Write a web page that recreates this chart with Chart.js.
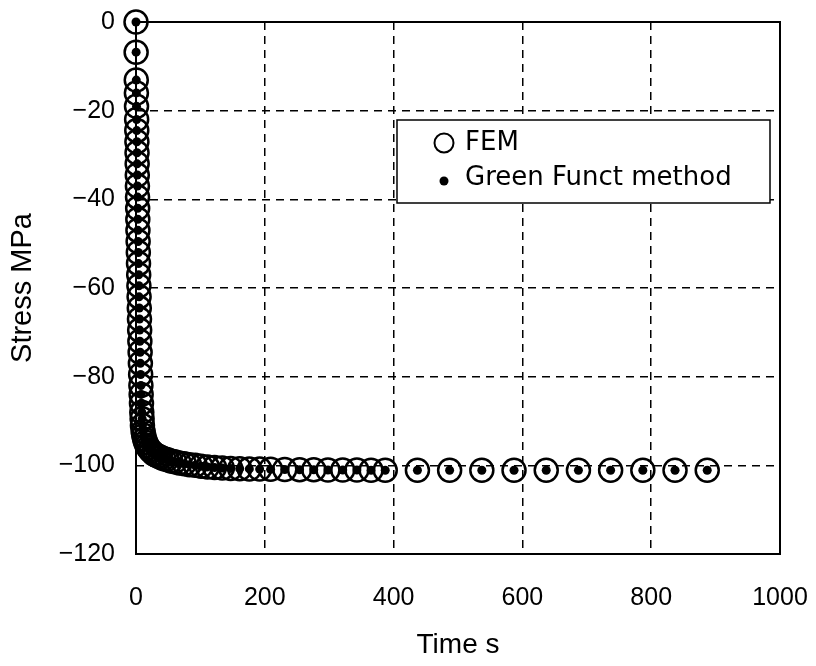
<!DOCTYPE html>
<html>
<head>
<meta charset="utf-8">
<script src="https://cdn.jsdelivr.net/npm/chart.js@4.4.0/dist/chart.umd.min.js"></script>
<style>
html, body { margin: 0; padding: 0; background: #fff; }
#wrap { width: 816px; height: 666px; }
</style>
</head>
<body>
<div id="wrap"><canvas id="stressChart" width="816" height="666"></canvas></div>
<script>
// time steps (s) of the transient run
const timeSec = [
    0, 0.2, 0.4, 0.6, 0.8, 1.0, 1.2, 1.4, 1.6, 1.8, 2.0, 2.2, 2.4, 2.6, 2.8, 3.0,
    3.3, 3.6, 3.9, 4.2, 4.5, 4.8, 5.1, 5.4, 5.7, 6.0,
    6.4, 6.8, 7.2, 7.6, 8.0, 8.5, 9.0, 9.5, 10,
    11, 12, 13.5, 15, 17, 19, 21.5, 24, 27, 30,
    34, 38, 43, 48, 54, 60, 67, 75, 83, 92,
    101, 111, 122, 134, 147, 161, 176, 192, 209,
    231, 254, 276, 298, 321, 343, 365, 387,
    437, 487, 537, 587, 637, 687, 737, 787, 837, 887
];
// stress (MPa) from the FE model
const femStress = [
    0, -6.8, -13.1, -16.0, -19.0, -22.0, -24.5, -27.0, -29.5, -32.0, -34.5, -37.0, -39.5, -42.0, -44.5, -47.0,
    -49.5, -52.0, -54.5, -57.0, -59.5, -62.0, -64.5, -67.0, -69.5, -72.0,
    -74.5, -77.0, -79.5, -82.0, -84.0, -86.0, -88.0, -89.5, -91.0,
    -92.3, -93.2, -94.1, -94.8, -95.5, -96.0, -96.5, -96.9, -97.3, -97.6,
    -97.9, -98.2, -98.5, -98.7, -99.0, -99.2, -99.45, -99.65, -99.85, -100.0,
    -100.2, -100.35, -100.5, -100.6, -100.7, -100.75, -100.8, -100.85, -100.9,
    -100.95, -101.0, -101.0, -101.05, -101.05, -101.05, -101.1, -101.1,
    -101.1, -101.1, -101.1, -101.1, -101.1, -101.1, -101.1, -101.1, -101.1, -101.1
];
// stress (MPa) from the Green function superposition
const greenStress = [
    0, -6.8, -13.1, -16.0, -19.0, -22.0, -24.5, -27.0, -29.5, -32.0, -34.5, -37.0, -39.5, -42.0, -44.5, -47.0,
    -49.5, -52.0, -54.5, -57.0, -59.5, -62.0, -64.5, -67.0, -69.5, -72.0,
    -74.5, -77.0, -79.5, -82.0, -84.0, -86.0, -88.0, -89.5, -91.0,
    -92.3, -93.2, -94.1, -94.8, -95.5, -96.0, -96.5, -96.9, -97.3, -97.6,
    -97.9, -98.2, -98.5, -98.7, -99.0, -99.2, -99.45, -99.65, -99.85, -100.0,
    -100.2, -100.35, -100.5, -100.6, -100.7, -100.75, -100.8, -100.85, -100.9,
    -100.95, -101.0, -101.0, -101.05, -101.05, -101.05, -101.1, -101.1,
    -101.1, -101.1, -101.1, -101.1, -101.1, -101.1, -101.1, -101.1, -101.1, -101.1
];
const xTicks = [0, 200, 400, 600, 800, 1000];
const yTicks = [0, -20, -40, -60, -80, -100, -120];
const seriesNames = ['FEM', 'Green Funct method'];

const font = 'Liberation Sans, Arial, sans-serif';
const legendFont = 'DejaVu Sans, sans-serif';
const minus = v => String(v).replace('-', '\u2212');

// dashed grid only inside the box, the edges are drawn as a solid frame
const innerGrid = (edges) => ({
    color: ctx => (ctx.tick && edges.includes(ctx.tick.value)) ? 'rgba(0,0,0,0)' : '#000',
    lineWidth: 1.5,
    drawTicks: false,
});

const frameAndLegend = {
    id: 'frameAndLegend',
    beforeDatasetsDraw(chart) {
        const {ctx, chartArea: a} = chart;
        ctx.save();
        ctx.strokeStyle = '#000';
        ctx.lineWidth = 2;
        ctx.strokeRect(a.left, a.top, a.right - a.left, a.bottom - a.top);
        ctx.restore();
    },
    afterDatasetsDraw(chart) {
        const {ctx, chartArea: a} = chart;
        const bx = a.left + 261, by = a.top + 98, bw = 373, bh = 83;
        ctx.save();
        ctx.fillStyle = '#fff';
        ctx.fillRect(bx, by, bw, bh);
        ctx.strokeStyle = '#000';
        ctx.lineWidth = 1.5;
        ctx.strokeRect(bx, by, bw, bh);
        // FEM marker
        ctx.lineWidth = 2;
        ctx.beginPath();
        ctx.arc(bx + 47, by + 23, 9.5, 0, Math.PI * 2);
        ctx.stroke();
        // Green function marker
        ctx.fillStyle = '#000';
        ctx.beginPath();
        ctx.arc(bx + 47, by + 61, 4.5, 0, Math.PI * 2);
        ctx.fill();
        ctx.font = '26px ' + legendFont;
        ctx.textBaseline = 'middle';
        ctx.textAlign = 'left';
        ctx.fillText(seriesNames[0], bx + 68, by + 23);
        ctx.fillText(seriesNames[1], bx + 68, by + 58);
        ctx.restore();
    }
};

const stressData = {
    datasets: [{
        label: seriesNames[1],
        data: timeSec.map((t, i) => ({x: t, y: greenStress[i]})),
        pointRadius: 4.5,
        pointBackgroundColor: '#000',
        pointBorderWidth: 0,
        showLine: false,
        clip: false,
    }, {
        label: seriesNames[0],
        data: timeSec.map((t, i) => ({x: t, y: femStress[i]})),
        pointRadius: 11.5,
        pointBorderWidth: 2.5,
        pointBorderColor: '#000',
        pointBackgroundColor: 'rgba(0,0,0,0)',
        showLine: false,
        clip: false,
    }]
};

const stressConfig = {
    type: 'scatter',
    data: stressData,
    options: {
        responsive: false,
        animation: false,
        layout: {
            autoPadding: false,
            padding: {left: 0, right: 36, top: 22, bottom: 0}
        },
        scales: {
            x: {
                type: 'linear',
                min: xTicks[0],
                max: xTicks[xTicks.length - 1],
                afterBuildTicks: scale => { scale.ticks = xTicks.map(v => ({value: v})); },
                afterFit: scale => {
                    scale.height = 112;
                    scale.paddingLeft = 0;
                    scale.paddingRight = 0;
                },
                grid: innerGrid([xTicks[0], xTicks[xTicks.length - 1]]),
                border: {display: false, dash: [8, 6]},
                ticks: {
                    color: '#000',
                    padding: 29,
                    maxRotation: 0,
                    font: {family: font, size: 25},
                    callback: v => minus(v),
                },
                title: {
                    display: true,
                    text: 'Time s',
                    color: '#000',
                    font: {family: font, size: 28},
                    padding: {top: 0, bottom: 4},
                },
            },
            y: {
                type: 'linear',
                min: yTicks[yTicks.length - 1],
                max: yTicks[0],
                afterBuildTicks: scale => { scale.ticks = yTicks.map(v => ({value: v})); },
                afterFit: scale => {
                    scale.width = 136;
                    scale.paddingTop = 0;
                    scale.paddingBottom = 0;
                },
                grid: innerGrid([yTicks[0], yTicks[yTicks.length - 1]]),
                border: {display: false, dash: [8, 6]},
                ticks: {
                    color: '#000',
                    padding: 21,
                    font: {family: font, size: 25},
                    callback: v => minus(v),
                },
                title: {
                    display: true,
                    text: 'Stress MPa',
                    color: '#000',
                    font: {family: font, size: 29},
                    padding: {top: 6, bottom: 0},
                },
            },
        },
        plugins: {
            legend: {display: false},
            tooltip: {enabled: false},
        },
    },
    plugins: [frameAndLegend],
};

const stressChart = new Chart(
    document.getElementById('stressChart'),
    stressConfig,
);
</script>
</body>
</html>
